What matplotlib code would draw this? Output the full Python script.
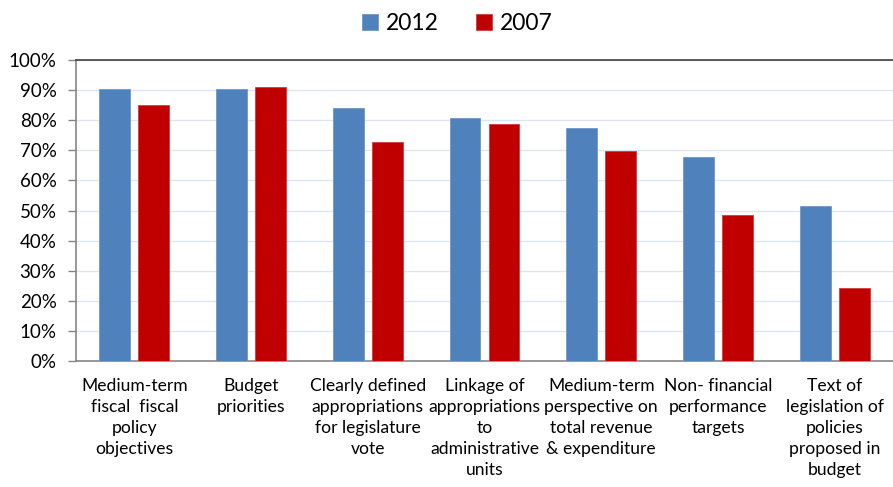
import numpy as np
import matplotlib.pyplot as plt
from matplotlib.ticker import PercentFormatter

plt.rcParams['font.family'] = ['Lato', 'DejaVu Sans']

categories = [
    "Medium-term\nfiscal  fiscal\npolicy\nobjectives",
    "Budget\npriorities",
    "Clearly defined\nappropriations\nfor legislature\nvote",
    "Linkage of\nappropriations\nto\nadministrative\nunits",
    "Medium-term\nperspective on\ntotal revenue\n& expenditure",
    "Non- financial\nperformance\ntargets",
    "Text of\nlegislation of\npolicies\nproposed in\nbudget",
]
share_2012 = [90.4, 90.4, 84.0, 80.7, 77.4, 67.8, 51.5]
share_2007 = [85.0, 91.0, 72.8, 78.7, 69.8, 48.5, 24.3]

blue = "#4F81BD"
red = "#C00000"

fig = plt.figure(figsize=(8.93, 4.87), dpi=100)
ax = fig.add_axes([0.0851, 0.2587, 0.9149, 0.6181])

x = np.arange(len(categories))
w = 0.265
off = 0.167
ax.bar(x - off, share_2012, w, color=blue, edgecolor="#6E97C8", linewidth=0.6, label="2012", zorder=3)
ax.bar(x + off, share_2007, w, color=red, edgecolor="#D23A3A", linewidth=0.6, label="2007", zorder=3)

ax.set_xlim(-0.5, len(categories) - 0.5)
ax.set_ylim(0, 100)
ax.set_yticks(np.arange(0, 101, 10))
ax.yaxis.set_major_formatter(PercentFormatter(decimals=0))
ax.grid(axis="y", color="#DCE6F2", linewidth=1.0, zorder=0)

ax.set_xticks(x)
ax.set_xticklabels(categories, fontsize=12.6, linespacing=1.4, va="top")
ax.tick_params(axis="x", length=0, pad=12)
ax.tick_params(axis="y", length=6, width=1, color="#868686", labelsize=13.5, pad=8, direction="out")

for side in ["left", "bottom"]:
    ax.spines[side].set_color("#868686")
    ax.spines[side].set_linewidth(1.2)
ax.spines["top"].set_color("#404040")
ax.spines["top"].set_linewidth(1.2)
ax.spines["right"].set_visible(False)

fig.legend(loc="center", bbox_to_anchor=(0.512, 0.952), ncol=2, frameon=False,
           fontsize=16.5, handlelength=0.7, handleheight=0.7, columnspacing=1.6, handletextpad=0.35)

fig.savefig("out.png", dpi=100)
